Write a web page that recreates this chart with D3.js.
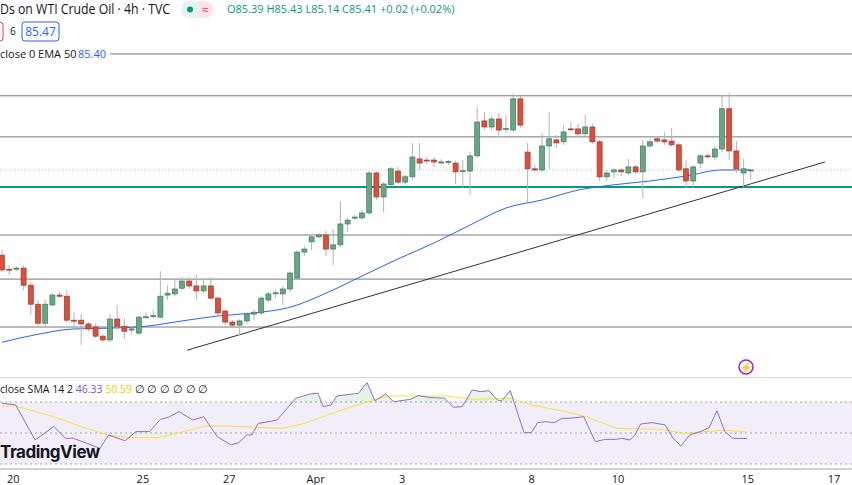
<!DOCTYPE html>
<html>
<head>
<meta charset="utf-8">
<script src="https://cdn.jsdelivr.net/npm/d3@7"></script>
<style>
  body { margin: 0; background: #fff; }
  svg { display: block; font-family: "Open Sans", "Noto Sans", sans-serif; }
</style>
</head>
<body>
<svg id="chart" width="852" height="485"></svg>
<script>
// 4h candles, WTI crude (index 0 = first visible candle)
const opens = [83.17,82.80,82.80,82.83,82.38,81.88,81.38,81.86,82.12,82.09,81.46,81.46,81.36,81.28,81.04,80.94,81.49,81.30,81.20,81.12,
  81.54,81.57,81.54,82.12,82.15,82.30,82.49,82.36,82.23,82.36,82.04,81.70,81.41,81.33,81.44,81.62,81.65,81.99,82.17,82.15,
  82.28,82.57,83.25,83.52,83.65,83.70,83.33,83.44,83.99,84.15,84.15,84.28,85.33,84.70,85.02,85.38,85.09,85.23,85.70,85.67,
  85.67,85.62,85.62,85.59,85.38,85.38,85.78,86.70,86.54,86.75,86.49,86.46,87.28,85.88,85.44,85.41,86.04,86.20,86.15,86.49,
  86.49,86.36,86.54,86.15,85.23,85.36,85.41,85.33,85.49,85.36,86.04,86.23,86.20,86.17,86.07,85.44,85.12,85.59,85.78,85.75,
  85.96,87.02,85.91,85.33,85.39];
const highs = [83.30,82.91,82.88,82.91,82.46,81.99,81.99,82.17,82.20,82.25,81.67,81.62,81.41,81.38,81.09,81.62,81.86,81.51,81.28,81.59,
  81.67,81.73,82.75,82.38,82.52,82.59,82.59,82.65,82.52,82.59,82.09,81.73,81.46,81.49,81.67,81.75,82.09,82.20,82.25,82.36,
  82.75,83.30,83.41,83.70,83.75,83.81,83.86,84.59,84.15,84.23,84.36,85.38,85.38,85.09,85.49,85.49,85.28,86.12,86.12,85.75,
  85.75,85.70,85.67,85.65,85.67,85.88,87.07,86.94,86.83,86.91,86.86,87.41,87.36,86.12,85.54,86.38,86.94,86.33,86.57,86.67,
  86.62,86.86,86.62,86.20,85.41,85.46,85.46,85.70,85.54,86.20,86.23,86.30,86.41,86.51,86.12,85.67,85.54,85.83,85.83,86.04,
  87.38,87.44,86.17,85.70,85.43];
const lows = [82.73,82.65,82.75,82.25,81.60,81.30,81.30,81.83,82.04,81.41,81.20,80.81,81.15,80.99,80.88,80.88,81.20,80.96,81.09,81.07,
  81.51,81.51,81.51,81.99,82.09,82.25,82.28,81.99,82.17,81.99,81.57,81.33,81.28,81.07,81.36,81.46,81.60,81.94,82.04,81.86,
  82.20,82.52,83.15,83.30,83.62,83.15,82.91,83.38,83.78,84.09,84.09,84.23,84.62,84.30,84.99,85.04,85.02,85.15,85.41,85.57,
  85.49,85.57,85.54,85.04,84.94,84.75,85.73,86.46,86.46,86.25,86.38,86.41,86.52,84.54,85.36,85.36,85.44,85.99,86.07,86.44,
  86.30,86.30,86.10,85.12,85.12,85.20,85.25,85.28,85.30,84.67,85.99,86.12,86.07,86.02,85.36,84.94,84.94,85.46,85.73,85.67,
  85.88,85.67,85.33,84.96,85.14];
const closes = [82.78,82.78,82.83,82.38,81.88,81.38,81.88,82.12,82.09,81.46,81.45,81.36,81.23,81.04,80.94,81.49,81.30,81.17,81.23,81.54,
  81.55,81.58,82.09,82.17,82.28,82.49,82.36,82.23,82.36,82.04,81.65,81.41,81.33,81.44,81.62,81.67,82.04,82.15,82.18,82.28,
  82.70,83.25,83.33,83.65,83.70,83.33,83.44,83.99,84.09,84.17,84.28,85.33,84.70,85.04,85.44,85.09,85.23,85.75,85.59,85.65,
  85.62,85.62,85.63,85.36,85.39,85.78,86.67,86.54,86.75,86.46,86.50,87.28,86.59,85.44,85.41,86.04,86.23,86.12,86.41,86.48,
  86.36,86.54,86.15,85.23,85.33,85.41,85.36,85.49,85.36,86.04,86.15,86.17,86.15,86.07,85.41,85.12,85.49,85.78,85.77,85.96,
  87.02,85.91,85.44,85.44,85.41];

// EMA 50 read at candle indices
const emaIdx = [0,5,10,15,20,25,30,35,40,45,50,55,60,65,70,75,80,85,90,95,100,104];
const emaVal = [80.88,81.09,81.23,81.25,81.30,81.44,81.57,81.65,81.80,82.17,82.62,83.07,83.49,83.96,84.41,84.62,84.88,85.02,85.12,85.25,85.41,85.41];

// RSI 14 and its SMA, [candle index, value]
const rsi = [[0,69.2],[1.9,68.1],[4.6,45.5],[7.2,54.3],[8.8,46.6],[9.9,46.6],[13.6,40.1],[14.8,48.7],[17.1,45.0],[18.6,50.9],
  [20.5,50.9],[22.0,58.8],[23.1,60.1],[24.6,63.8],[26.5,58.4],[28.0,60.5],[29.9,47.6],[31.8,42.3],[32.9,43.8],[34.0,48.7],
  [34.7,48.7],[35.6,56.2],[37.1,57.3],[38.2,58.4],[40.8,72.4],[42.8,75.2],[43.9,75.6],[44.6,67.0],[45.7,68.1],[46.5,73.9],
  [49.5,75.6],[50.7,82.5],[51.8,70.8],[53.3,75.2],[54.4,70.2],[56.7,71.7],[57.8,74.1],[59.3,73.0],[61.5,72.4],[62.7,66.6],
  [63.9,67.0],[65.3,77.7],[66.5,76.7],[67.6,77.3],[68.8,71.3],[69.4,70.8],[70.6,77.3],[72.5,50.2],[73.5,50.2],[74.4,56.7],
  [75.5,57.3],[76.7,56.7],[77.8,59.5],[78.9,59.5],[80.8,60.5],[82.4,44.4],[83.8,45.9],[85.3,45.9],[86.1,46.6],[87.2,45.5],
  [87.9,48.7],[88.7,55.8],[90.3,56.7],[92.1,55.2],[93.2,46.6],[94.3,41.6],[95.5,48.7],[97.0,50.9],[98.2,53.4],[99.3,64.4],
  [100.4,50.9],[101.5,46.6],[103.5,46.33]];
const rsiSma = [[0,67.4],[1.9,67.4],[7.2,60.5],[11.0,54.1],[14.8,48.7],[17.8,47.0],[21.6,47.0],[24.6,50.2],[28.4,54.5],[31.4,54.5],
  [35.2,53.7],[38.9,53.0],[42.0,56.2],[46.5,63.8],[51.8,71.7],[54.0,73.9],[61.5,73.9],[65.3,71.7],[70.6,72.4],[73.6,68.1],
  [78.2,63.8],[81.2,60.5],[85.3,53.0],[91.4,52.4],[94.7,49.8],[100.4,51.9],[103.5,50.59]];

const levels = [88.46, 87.36, 86.28, 83.70, 82.54, 81.28];
const supportLevel = 84.96;
const trendLine = [[25.7, 80.67], [114.3, 85.62]];
const lastPrice = 85.41;

const tickIdx = [2, 20, 32, 44, 56, 74, 86, 104, 116];
const tickLbl = ['20', '25', '27', 'Apr', '3', '8', '10', '15', '17'];

const W = 852;
const svg = d3.select('#chart');
const x = d3.scaleLinear().domain([0, 104]).range([2, 2 + 104 * 7.2]);
const y = d3.scaleLinear().domain([80.15, 89.09]).range([370, 30]);
const yr = d3.scaleLinear().domain([30, 70]).range([464, 402]);

// horizontal levels
svg.selectAll('line.lvl').data(levels).join('line')
  .attr('x1', (d, i) => i === 0 ? 110 : 0).attr('x2', W)
  .attr('y1', d => y(d)).attr('y2', d => y(d))
  .attr('stroke', '#7a7a7a').attr('stroke-width', 1);
svg.append('line').attr('x1', 0).attr('x2', W)
  .attr('y1', y(lastPrice)).attr('y2', y(lastPrice))
  .attr('stroke', '#b8c8c4').attr('stroke-dasharray', '1,2');
svg.append('line').attr('x1', 0).attr('x2', W)
  .attr('y1', y(supportLevel)).attr('y2', y(supportLevel))
  .attr('stroke', '#0a9a83').attr('stroke-width', 2);
svg.append('line')
  .attr('x1', x(trendLine[0][0])).attr('y1', y(trendLine[0][1]))
  .attr('x2', x(trendLine[1][0])).attr('y2', y(trendLine[1][1]))
  .attr('stroke', '#333').attr('stroke-width', 1);

// EMA
svg.append('path')
  .attr('d', d3.line().curve(d3.curveMonotoneX).x(d => x(d)).y((d, i) => y(emaVal[i]))(emaIdx))
  .attr('fill', 'none').attr('stroke', '#2962ff').attr('stroke-width', 1);

// candles
const bw = 5;
const cg = svg.append('g');
closes.forEach((c, i) => {
  const o = opens[i], up = c >= o;
  cg.append('line').attr('x1', x(i)).attr('x2', x(i))
    .attr('y1', y(highs[i])).attr('y2', y(lows[i]))
    .attr('stroke', '#b4b4b4');
  const top = y(Math.max(o, c)), bot = y(Math.min(o, c));
  cg.append('rect').attr('x', x(i) - bw / 2).attr('width', bw)
    .attr('y', top).attr('height', Math.max(1, bot - top))
    .attr('fill', up ? '#6aa584' : '#d9503f')
    .attr('stroke', up ? '#3f7d5d' : '#a8362a').attr('stroke-width', 0.7);
});

// header texts
svg.append('text').attr('x', 0).attr('y', 14).attr('font-size', 14).attr('fill', '#131722')
  .attr('textLength', 170).attr('lengthAdjust', 'spacingAndGlyphs')
  .text('Ds on WTI Crude Oil · 4h · TVC');
svg.append('rect').attr('x', 181).attr('y', 1).attr('width', 32).attr('height', 17).attr('rx', 8).attr('fill', '#e6f4f1');
svg.append('rect').attr('x', 197).attr('y', 1).attr('width', 16).attr('height', 17).attr('rx', 8).attr('fill', '#fde4e8');
svg.append('circle').attr('cx', 190).attr('cy', 9.5).attr('r', 3).attr('fill', '#089981');
svg.append('text').attr('x', 202).attr('y', 14).attr('font-size', 12).attr('fill', '#f23645').text('≈');
svg.append('text').attr('x', 227).attr('y', 13).attr('font-size', 11).attr('fill', '#089981')
  .text('O85.39 H85.43 L85.14 C85.41 +0.02 (+0.02%)');
svg.append('rect').attr('x', -6).attr('y', 22).attr('width', 9).attr('height', 19).attr('rx', 3)
  .attr('fill', 'none').attr('stroke', '#f23645');
svg.append('text').attr('x', 10).attr('y', 35).attr('font-size', 10).attr('fill', '#131722').text('6');
svg.append('rect').attr('x', 22).attr('y', 22).attr('width', 37).attr('height', 19).attr('rx', 3)
  .attr('fill', '#fff').attr('stroke', '#2962ff');
svg.append('text').attr('x', 40.5).attr('y', 36).attr('text-anchor', 'middle').attr('font-size', 12).attr('fill', '#2962ff').text('85.47');
svg.append('rect').attr('x', 0).attr('y', 45).attr('width', 108).attr('height', 16).attr('fill', '#fff');
svg.append('text').attr('x', 0).attr('y', 58).attr('font-size', 11).attr('fill', '#131722').text('close 0 EMA 50');
svg.append('text').attr('x', 78).attr('y', 58).attr('font-size', 11).attr('fill', '#2962ff').text('85.40');

// lightning badge
svg.append('circle').attr('cx', 746).attr('cy', 367).attr('r', 7).attr('fill', '#fff')
  .attr('stroke', '#9c27b0').attr('stroke-width', 1.5);
svg.append('text').attr('x', 746).attr('y', 371).attr('text-anchor', 'middle').attr('font-size', 10)
  .attr('fill', '#9c27b0').text('⚡');

// RSI pane
svg.append('line').attr('x1', 0).attr('x2', W).attr('y1', 377.5).attr('y2', 377.5).attr('stroke', '#d1d4dc');
svg.append('rect').attr('x', 0).attr('y', yr(70)).attr('width', W).attr('height', yr(30) - yr(70))
  .attr('fill', '#7e57c2').attr('fill-opacity', 0.1);
svg.selectAll('line.rl').data([70, 50, 30]).join('line')
  .attr('x1', 0).attr('x2', W).attr('y1', d => yr(d)).attr('y2', d => yr(d))
  .attr('stroke', '#a0a3ab').attr('stroke-dasharray', '2,3');
svg.append('clipPath').attr('id', 'ob').append('rect').attr('x', 0).attr('y', 370).attr('width', W).attr('height', yr(70) - 370);
svg.append('path').attr('clip-path', 'url(#ob)')
  .attr('d', d3.area().x(d => x(d[0])).y0(yr(70)).y1(d => yr(d[1]))(rsi))
  .attr('fill', '#4caf50').attr('fill-opacity', 0.15);
svg.append('path')
  .attr('d', d3.line().x(d => x(d[0])).y(d => yr(d[1]))(rsiSma))
  .attr('fill', 'none').attr('stroke', '#f5e43a').attr('stroke-width', 1);
svg.append('path')
  .attr('d', d3.line().x(d => x(d[0])).y(d => yr(d[1]))(rsi))
  .attr('fill', 'none').attr('stroke', '#8b6fd0').attr('stroke-width', 1);

const rl = svg.append('text').attr('x', 0).attr('y', 393).attr('font-size', 10.5);
rl.append('tspan').attr('fill', '#131722').text('close SMA 14 2  ');
rl.append('tspan').attr('fill', '#7e57c2').text('46.33  ');
rl.append('tspan').attr('fill', '#e8d200').text('50.59  ');
rl.append('tspan').attr('fill', '#131722').text('∅ ∅ ∅ ∅ ∅ ∅');

svg.append('text').attr('x', 0).attr('y', 458).attr('font-size', 17).attr('font-weight', 'bold')
  .attr('fill', '#131722').attr('font-family', 'Inter, sans-serif').attr('letter-spacing', '-0.5').text('TradingView');

// time axis
svg.append('line').attr('x1', 0).attr('x2', W).attr('y1', 469).attr('y2', 469).attr('stroke', '#a0a3ab');
const xa = d3.axisBottom(x).tickValues(tickIdx.map(d => d - 0.5))
  .tickFormat((d, i) => tickLbl[i]).tickSize(0).tickPadding(5);
const ga = svg.append('g').attr('transform', 'translate(0,470)').call(xa);
ga.select('.domain').remove();
ga.selectAll('text').attr('font-size', 11).attr('fill', '#131722')
  .attr('font-family', '"Open Sans", sans-serif');
</script>
</body>
</html>
